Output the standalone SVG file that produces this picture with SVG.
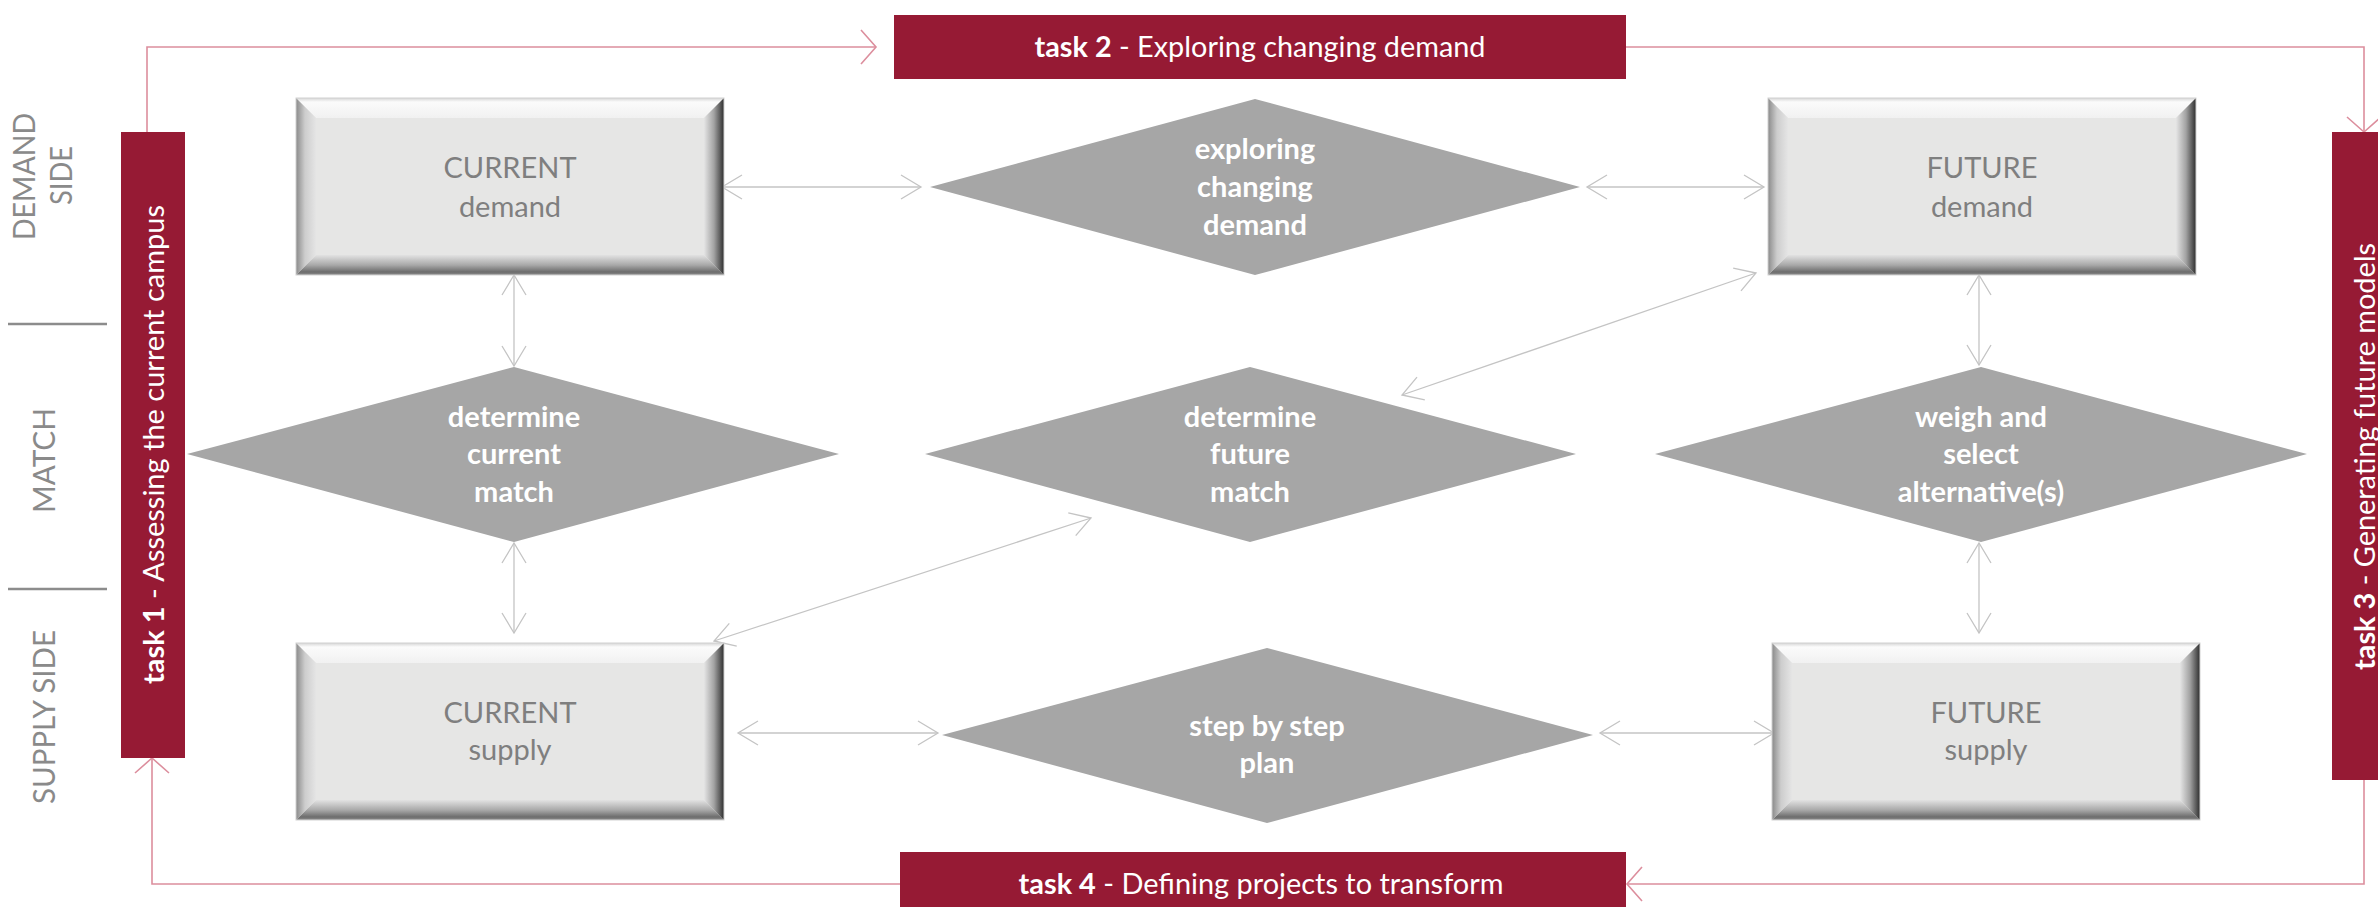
<svg xmlns="http://www.w3.org/2000/svg" xmlns:xlink="http://www.w3.org/1999/xlink" width="2378" height="907" viewBox="0 0 2378 907">
  <style>
    .lane { font-family: Lato, "Liberation Sans", sans-serif; font-weight: 400; font-size: 30px; fill: #8a8a8a; }
    .sep { stroke: #8c8c8c; stroke-width: 2.5; }
    .bar { fill: #961a34; }
    .task { font-family: Lato, "Liberation Sans", sans-serif; font-size: 28px; fill: #ffffff; }
    .task .b { font-weight: 700; }
    .box-label { font-family: Lato, "Liberation Sans", sans-serif; font-size: 29px; fill: #7f7f7f; text-anchor: middle; }
    .dia { fill: #a6a6a6; }
    .dia-label { font-family: Lato, "Liberation Sans", sans-serif; font-weight: 700; font-size: 29px; fill: #ffffff; text-anchor: middle; }
    .link { fill: none; stroke: #c4c4c4; stroke-width: 1.3; marker-start: url(#headGray); marker-end: url(#headGray); }
    .flow { fill: none; stroke: #dc8e9d; stroke-width: 1.6; marker-end: url(#headRed); }
  </style>
  <defs>
    <marker id="headGray" markerUnits="userSpaceOnUse" markerWidth="30" markerHeight="30" viewBox="-25 -15 30 30" refX="0" refY="0" orient="auto-start-reverse" overflow="visible">
      <path d="M-20,-12 L0,0 L-20,12" fill="none" stroke="#c4c4c4" stroke-width="1.3"/>
    </marker>
    <marker id="headRed" markerUnits="userSpaceOnUse" markerWidth="30" markerHeight="40" viewBox="-20 -20 25 40" refX="0" refY="0" orient="auto" overflow="visible">
      <path d="M-15,-17 L0,0 L-15,17" fill="none" stroke="#dc8e9d" stroke-width="1.6"/>
    </marker>
    <linearGradient id="gTop" x1="0" y1="0" x2="0" y2="1">
      <stop offset="0" stop-color="#d6d6d6"/>
      <stop offset="0.2" stop-color="#fbfbfb"/>
      <stop offset="1" stop-color="#f1f1f1"/>
    </linearGradient>
    <linearGradient id="gBot" x1="0" y1="0" x2="0" y2="1">
      <stop offset="0" stop-color="#e2e2e2"/>
      <stop offset="0.5" stop-color="#a9a9a9"/>
      <stop offset="0.85" stop-color="#6c6c6c"/>
      <stop offset="1" stop-color="#8e8e8e"/>
    </linearGradient>
    <linearGradient id="gLeft" x1="0" y1="0" x2="1" y2="0">
      <stop offset="0" stop-color="#8a8a8a"/>
      <stop offset="0.45" stop-color="#cdcdcd"/>
      <stop offset="1" stop-color="#e5e5e5"/>
    </linearGradient>
    <linearGradient id="gRight" x1="0" y1="0" x2="1" y2="0">
      <stop offset="0" stop-color="#e5e5e5"/>
      <stop offset="0.5" stop-color="#a2a2a2"/>
      <stop offset="1" stop-color="#2e2e2e"/>
    </linearGradient>
    <!-- bevelled button used for the four state boxes -->
    <g id="bevelBox">
      <rect x="0" y="0" width="428" height="177" fill="#e6e6e5"/>
      <polygon points="0,0 428,0 408,20 20,20" fill="url(#gTop)"/>
      <polygon points="0,177 428,177 408,157 20,157" fill="url(#gBot)"/>
      <polygon points="0,0 20,20 20,157 0,177" fill="url(#gLeft)"/>
      <polygon points="428,0 428,177 408,157 408,20" fill="url(#gRight)"/>
      <rect x="0" y="0" width="428" height="177" fill="none" stroke="#d2d2d2" stroke-width="1"/>
    </g>
  </defs>

  <rect x="0" y="0" width="2378" height="907" fill="#ffffff"/>

  <!-- row labels on the left margin -->
  <g id="row-labels">
    <text class="lane" text-anchor="middle" transform="translate(35,176.5) rotate(-90)" textLength="127" lengthAdjust="spacingAndGlyphs">DEMAND</text>
    <text class="lane" text-anchor="middle" transform="translate(72,175.5) rotate(-90)" textLength="59" lengthAdjust="spacingAndGlyphs">SIDE</text>
    <text class="lane" text-anchor="middle" transform="translate(55,460.5) rotate(-90)" textLength="105" lengthAdjust="spacingAndGlyphs">MATCH</text>
    <text class="lane" text-anchor="middle" transform="translate(55,717) rotate(-90)" textLength="174" lengthAdjust="spacingAndGlyphs">SUPPLY SIDE</text>
    <line class="sep" x1="8" y1="324" x2="107" y2="324"/>
    <line class="sep" x1="8" y1="589" x2="107" y2="589"/>
  </g>

  <!-- connectors -->
  <g id="connectors">
    <!-- task cycle -->
    <polyline class="flow" points="147,132 147,47 876,47"/>
    <polyline class="flow" points="1626,47 2364,47 2364,132"/>
    <polyline class="flow" points="2364,780 2364,884 1627,884"/>
    <polyline class="flow" points="900,884 152,884 152,758"/>
    <!-- two-way links between states and activities -->
    <line class="link" x1="722" y1="187" x2="921" y2="187"/>
    <line class="link" x1="1587" y1="187" x2="1764" y2="187"/>
    <line class="link" x1="514" y1="275" x2="514" y2="366"/>
    <line class="link" x1="514" y1="543" x2="514" y2="633"/>
    <line class="link" x1="714" y1="641" x2="1091" y2="518"/>
    <line class="link" x1="1402" y1="395" x2="1756" y2="273"/>
    <line class="link" x1="1979" y1="275" x2="1979" y2="365"/>
    <line class="link" x1="1979" y1="543" x2="1979" y2="633"/>
    <line class="link" x1="738" y1="733" x2="938" y2="733"/>
    <line class="link" x1="1600" y1="733" x2="1774" y2="733"/>
  </g>

  <!-- task bars -->
  <g id="task1">
    <rect class="bar" x="121" y="132" width="64" height="626"/>
    <text class="task" text-anchor="middle" transform="translate(164,444.5) rotate(-90)" textLength="479" lengthAdjust="spacingAndGlyphs"><tspan class="b">task 1</tspan> - Assessing the current campus</text>
  </g>
  <g id="task2">
    <rect class="bar" x="894" y="15" width="732" height="64"/>
    <text class="task" text-anchor="middle" x="1260" y="57" textLength="451" lengthAdjust="spacingAndGlyphs"><tspan class="b">task 2</tspan> - Exploring changing demand</text>
  </g>
  <g id="task3">
    <rect class="bar" x="2332" y="132" width="64" height="648"/>
    <text class="task" text-anchor="middle" transform="translate(2375,456.5) rotate(-90)" textLength="427" lengthAdjust="spacingAndGlyphs"><tspan class="b">task 3</tspan> - Generating future models</text>
  </g>
  <g id="task4">
    <rect class="bar" x="900" y="852" width="726" height="64"/>
    <text class="task" text-anchor="middle" x="1261" y="894" textLength="485" lengthAdjust="spacingAndGlyphs"><tspan class="b">task 4</tspan> - Defining projects to transform</text>
  </g>

  <!-- state boxes -->
  <g id="current-demand">
    <use href="#bevelBox" xlink:href="#bevelBox" x="296" y="98"/>
    <text class="box-label" x="510" y="178">CURRENT</text>
    <text class="box-label" x="510" y="217">demand</text>
  </g>
  <g id="future-demand">
    <use href="#bevelBox" xlink:href="#bevelBox" x="1768" y="98"/>
    <text class="box-label" x="1982" y="178">FUTURE</text>
    <text class="box-label" x="1982" y="217">demand</text>
  </g>
  <g id="current-supply">
    <use href="#bevelBox" xlink:href="#bevelBox" x="296" y="643"/>
    <text class="box-label" x="510" y="723">CURRENT</text>
    <text class="box-label" x="510" y="760">supply</text>
  </g>
  <g id="future-supply">
    <use href="#bevelBox" xlink:href="#bevelBox" x="1772" y="643"/>
    <text class="box-label" x="1986" y="723">FUTURE</text>
    <text class="box-label" x="1986" y="760">supply</text>
  </g>

  <!-- activity diamonds -->
  <g id="exploring-changing-demand">
    <polygon class="dia" points="930,187 1255,99 1580,187 1255,275"/>
    <text class="dia-label" x="1255" y="159">exploring</text>
    <text class="dia-label" x="1255" y="197">changing</text>
    <text class="dia-label" x="1255" y="235">demand</text>
  </g>
  <g id="determine-current-match">
    <polygon class="dia" points="187,454 514,367 839,454 514,542"/>
    <text class="dia-label" x="514" y="427">determine</text>
    <text class="dia-label" x="514" y="464">current</text>
    <text class="dia-label" x="514" y="502">match</text>
  </g>
  <g id="determine-future-match">
    <polygon class="dia" points="925,454 1250,367 1576,454 1250,542"/>
    <text class="dia-label" x="1250" y="427">determine</text>
    <text class="dia-label" x="1250" y="464">future</text>
    <text class="dia-label" x="1250" y="502">match</text>
  </g>
  <g id="weigh-and-select">
    <polygon class="dia" points="1655,454 1981,367 2307,454 1981,542"/>
    <text class="dia-label" x="1981" y="427">weigh and</text>
    <text class="dia-label" x="1981" y="464">select</text>
    <text class="dia-label" x="1981" y="502">alternative(s)</text>
  </g>
  <g id="step-by-step-plan">
    <polygon class="dia" points="942,735 1267,648 1593,735 1267,823"/>
    <text class="dia-label" x="1267" y="736">step by step</text>
    <text class="dia-label" x="1267" y="773">plan</text>
  </g>
</svg>
